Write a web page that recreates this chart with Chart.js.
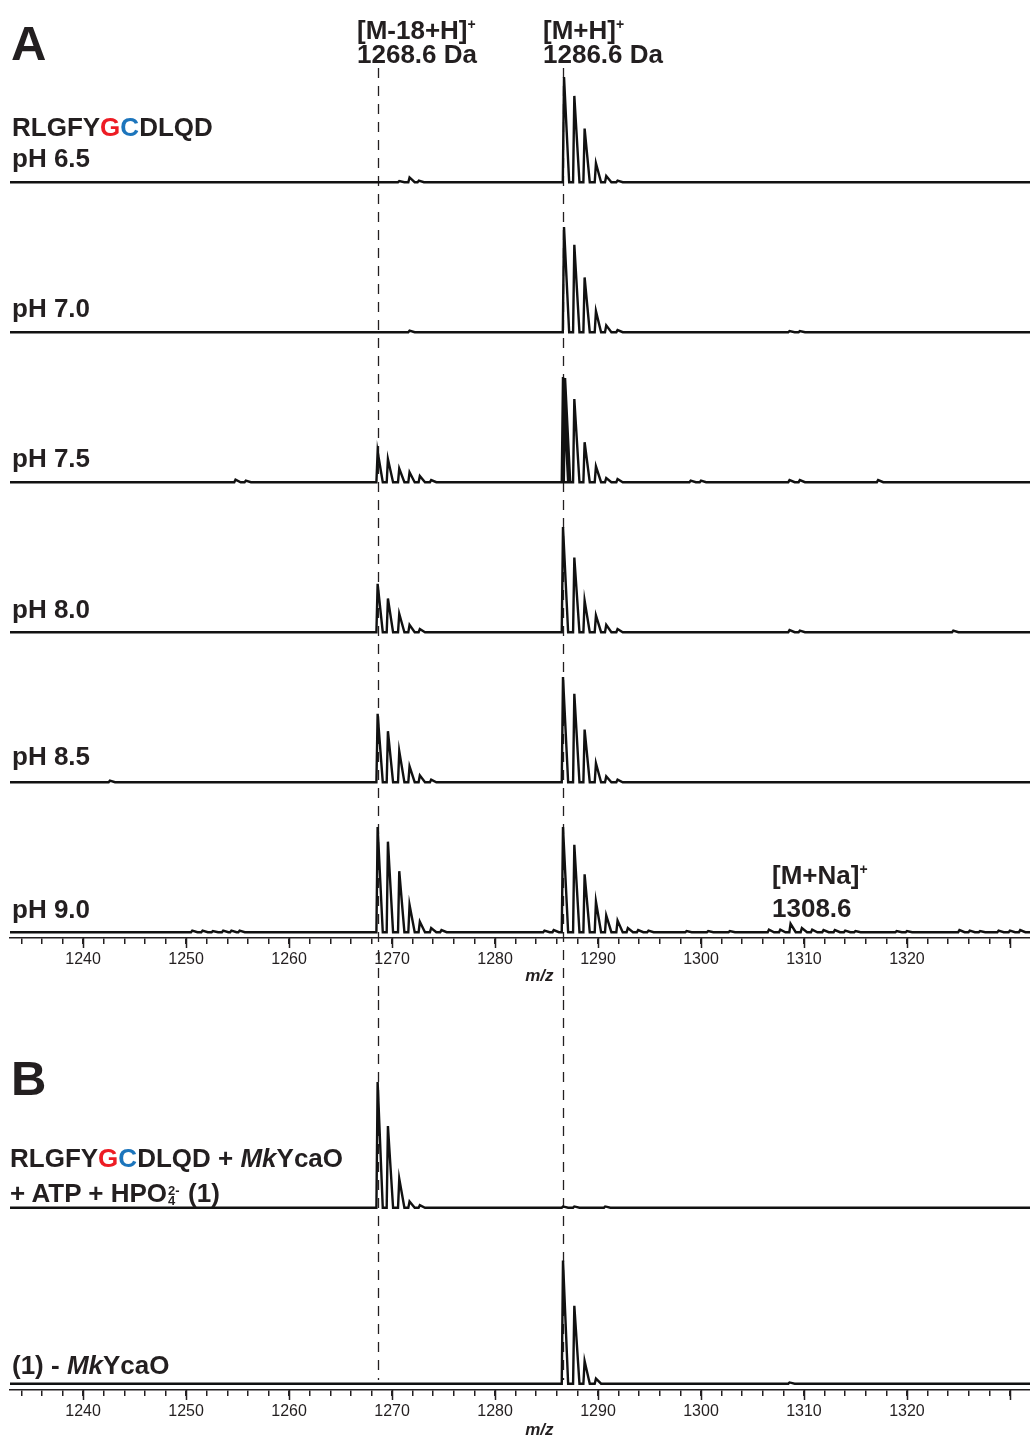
<!DOCTYPE html>
<html>
<head>
<meta charset="utf-8">
<script src="https://cdn.jsdelivr.net/npm/chart.js@4.4.1/dist/chart.umd.min.js"></script>
<style>
  body { margin: 0; background: #fff; }
  #page { position: relative; width: 1030px; height: 1441px; overflow: hidden;
          font-family: "Liberation Sans", Arial, sans-serif; color: #231f20; }
  .box { position: absolute; left: 0; width: 1030px; }
  .lbl { position: absolute; font-weight: bold; font-size: 26px; line-height: 1; white-space: nowrap; }
  .big { font-size: 49px; }
  .g { color: #ed1c24; }
  .c { color: #1c75bc; }
  .sp { font-size: 14px; vertical-align: 10px; line-height: 0; }
  .ss { display: inline-block; position: relative; width: 21px; height: 20px; }
  .ss span { position: absolute; left: 1px; font-size: 13px; line-height: 1; }
</style>
</head>
<body>
<div id="page">
  <div class="box" style="top:0;height:1000px"><canvas id="specA" width="1030" height="1000"></canvas></div>
  <div class="box" style="top:1000px;height:441px"><canvas id="specB" width="1030" height="441"></canvas></div>

  <div class="lbl big" style="left:11px;top:19px">A</div>
  <div class="lbl big" style="left:11px;top:1054px">B</div>

  <div class="lbl" style="left:357px;top:17px">[M-18+H]<span class="sp">+</span></div>
  <div class="lbl" style="left:357px;top:41px">1268.6 Da</div>
  <div class="lbl" style="left:543px;top:17px">[M+H]<span class="sp">+</span></div>
  <div class="lbl" style="left:543px;top:41px">1286.6 Da</div>
  <div class="lbl" style="left:772px;top:862px">[M+Na]<span class="sp">+</span></div>
  <div class="lbl" style="left:772px;top:895px">1308.6</div>

  <div class="lbl" style="left:12px;top:114px">RLGFY<span class="g">G</span><span class="c">C</span>DLQD</div>
  <div class="lbl" style="left:12px;top:145px">pH 6.5</div>
  <div class="lbl" style="left:12px;top:295px">pH 7.0</div>
  <div class="lbl" style="left:12px;top:445px">pH 7.5</div>
  <div class="lbl" style="left:12px;top:596px">pH 8.0</div>
  <div class="lbl" style="left:12px;top:743px">pH 8.5</div>
  <div class="lbl" style="left:12px;top:896px">pH 9.0</div>

  <div class="lbl" style="left:10px;top:1145px">RLGFY<span class="g">G</span><span class="c">C</span>DLQD + <i>Mk</i>YcaO</div>
  <div class="lbl" style="left:10px;top:1180px">+ ATP + HPO<span class="ss"><span style="top:2px">2-</span><span style="top:12px">4</span></span>(1)</div>
  <div class="lbl" style="left:12px;top:1352px">(1) - <i>Mk</i>YcaO</div>
</div>

<script>
// x range of the m/z axis and the two reference masses
const MZ_MIN = 1232.9;
const MZ_MAX = 1331.95;
const LAST_LABEL = 1320;
const markerMz = [1268.6, 1286.6];

// panel A: peak centroids (m/z) and relative intensities (%)
const mzPH65 = [1270.7, 1271.7, 1272.6, 1286.7, 1287.7, 1288.7, 1289.8, 1290.8, 1291.9];
const intPH65 = [1, 4.5, 1.5, 100, 82, 51, 18, 6, 1.5];

const mzPH70 = [1271.7, 1286.7, 1287.7, 1288.7, 1289.8, 1290.8, 1291.9, 1308.6, 1309.6];
const intPH70 = [1.5, 100, 83, 52, 20, 6.5, 2, 1, 1];

const mzPH75 = [1254.8, 1255.8, 1268.6, 1269.6, 1270.7, 1271.7, 1272.7, 1273.8,
    1286.6, 1286.8, 1287.7, 1288.7, 1289.8, 1290.8, 1291.9, 1299.0, 1300.0, 1308.6, 1309.6, 1317.2];
const intPH75 = [2.5, 1.5, 29, 22, 13, 9.5, 6, 2,
    100, 99, 79, 38, 15, 4, 3, 1.5, 1.5, 2, 2, 2];

const mzPH80 = [1268.6, 1269.6, 1270.7, 1271.7, 1272.7,
    1286.6, 1287.7, 1288.7, 1289.8, 1290.8, 1291.9, 1308.6, 1309.6, 1324.5];
const intPH80 = [46, 32, 17.5, 7, 3,
    100, 71, 30, 16, 7, 3, 2, 1.5, 1.5];

const mzPH85 = [1242.6, 1268.6, 1269.6, 1270.7, 1271.7, 1272.7, 1273.8,
    1286.6, 1287.7, 1288.7, 1289.8, 1290.8, 1291.9];
const intPH85 = [1.5, 65, 48.5, 29.5, 15, 6.5, 2.5,
    100, 84, 50, 18, 5.5, 2.5];

const mzPH90 = [1250.6, 1251.6, 1252.6, 1253.6, 1254.4, 1255.2,
    1268.6, 1269.6, 1270.7, 1271.7, 1272.7, 1273.8, 1274.8,
    1284.8, 1285.7, 1286.6, 1287.7, 1288.7, 1289.8, 1290.8, 1291.9, 1292.9, 1293.9, 1294.9,
    1298.6, 1300.7, 1302.8,
    1306.6, 1307.7, 1308.7, 1309.8, 1310.8, 1311.9, 1313.0, 1314.0, 1315.0,
    1319.0, 1320.0, 1325.1, 1326.1, 1327.1, 1328.9, 1330.0, 1331.0];
const intPH90 = [1.5, 1.5, 1, 1.5, 1.5, 1.5,
    100, 86, 58, 26, 10, 4, 2,
    1.5, 2, 100, 83, 55, 29, 16, 11, 4, 2, 1.5,
    1, 1, 1,
    2.5, 2.5, 8, 4, 2.5, 2, 2, 1.5, 1,
    1, 1, 2, 1.5, 1, 1.5, 1.5, 2];

// panel B
const mzWithEnzyme = [1268.6, 1269.6, 1270.7, 1271.7, 1272.7, 1286.6, 1287.7, 1290.7];
const intWithEnzyme = [100, 65, 23, 5, 2, 1, 1, 1];

const mzNoEnzyme = [1286.6, 1287.7, 1288.7, 1289.8, 1308.6];
const intNoEnzyme = [98, 62, 18, 4, 1];

const PEAK_LEFT = 0.12;
const PEAK_RIGHT = 0.5;
const INK = '#231f20';

// centroid list -> profile line (baseline, peak apex, baseline)
function toProfile(mz, inten) {
    let pts = [{x: MZ_MIN, y: 0}];
    mz.forEach((m, i) => {
        pts.push({x: m - PEAK_LEFT, y: 0});
        pts.push({x: m, y: inten[i]});
        pts.push({x: m + PEAK_RIGHT, y: 0});
    });
    pts.push({x: MZ_MAX, y: 0});
    return pts;
}

const markerPlugin = {
    id: 'markers',
    beforeDatasetsDraw(chart, args, opts) {
        const ctx = chart.ctx;
        const xs = chart.scales.x;
        ctx.save();
        ctx.strokeStyle = INK;
        ctx.lineWidth = 1.3;
        ctx.setLineDash([10, 8]);
        markerMz.forEach(m => {
            const px = Math.round(xs.getPixelForValue(m)) + 0.5;
            ctx.beginPath();
            ctx.moveTo(px, opts.from);
            ctx.lineTo(px, opts.to);
            ctx.stroke();
        });
        ctx.restore();
    },
    afterDraw(chart, args, opts) {
        const ctx = chart.ctx;
        const xs = chart.scales.x;
        ctx.save();
        ctx.strokeStyle = INK;
        ctx.lineWidth = 1.5;
        ctx.beginPath();
        xs.ticks.forEach(t => {
            if (t.value % 10 === 0) {
                const px = Math.round(xs.getPixelForValue(t.value)) + 0.5;
                ctx.moveTo(px, xs.top);
                ctx.lineTo(px, xs.top + 10);
            }
        });
        ctx.stroke();
        ctx.fillStyle = INK;
        ctx.font = 'italic bold 17px "Liberation Sans", Arial, sans-serif';
        ctx.textAlign = 'center';
        ctx.textBaseline = 'middle';
        ctx.fillText('m/z', xs.getPixelForValue(1284.3), xs.top + opts.titleOffset);
        ctx.restore();
    }
};

function makeChart(canvasId, series, yMin, yMax, axisHeight, markerOpts) {
    let scales = {
        x: {
            type: 'linear',
            position: 'bottom',
            min: MZ_MIN,
            max: MZ_MAX,
            afterFit: (scale) => { scale.height = axisHeight; },
            ticks: {
                stepSize: 2,
                maxTicksLimit: 100,
                autoSkip: false,
                maxRotation: 0,
                includeBounds: false,
                padding: 6,
                color: INK,
                font: {family: '"Liberation Sans", Arial, sans-serif', size: 16},
                callback: (v) => (v % 10 === 0 && v <= LAST_LABEL ? String(v) : '')
            },
            grid: {display: true, drawOnChartArea: false, drawTicks: true, tickLength: 6, color: INK, lineWidth: 1.5},
            border: {display: true, color: INK, width: 1.5}
        }
    };
    // left-hand stacked axes are laid out last-first, so register them bottom-up
    for (let i = series.length - 1; i >= 0; i--) {
        scales['y' + i] = {
            type: 'linear',
            display: false,
            stack: 'spectra',
            stackWeight: 1,
            position: 'left',
            min: yMin,
            max: yMax
        };
    }
    let datasets = series.map((s, i) => ({
        data: toProfile(s[0], s[1]),
        yAxisID: 'y' + i,
        borderColor: '#111',
        borderWidth: 2.4,
        pointRadius: 0,
        tension: 0,
        fill: false
    }));
    return new Chart(document.getElementById(canvasId), {
        type: 'line',
        data: {datasets: datasets},
        options: {
            responsive: false,
            animation: false,
            events: [],
            layout: {padding: {top: 38, left: 10, right: 0, bottom: 0}},
            scales: scales,
            plugins: {
                legend: {display: false},
                tooltip: {enabled: false},
                markers: markerOpts
            }
        },
        plugins: [markerPlugin]
    });
}

makeChart('specA', [
    [mzPH65, intPH65],
    [mzPH70, intPH70],
    [mzPH75, intPH75],
    [mzPH80, intPH80],
    [mzPH85, intPH85],
    [mzPH90, intPH90]
], -5.5, 137, 62, {from: 68, to: 1000, titleOffset: 38});

makeChart('specB', [
    [mzWithEnzyme, intWithEnzyme],
    [mzNoEnzyme, intNoEnzyme]
], -5, 135, 51, {from: 0, to: 380, titleOffset: 40});
</script>
</body>
</html>
